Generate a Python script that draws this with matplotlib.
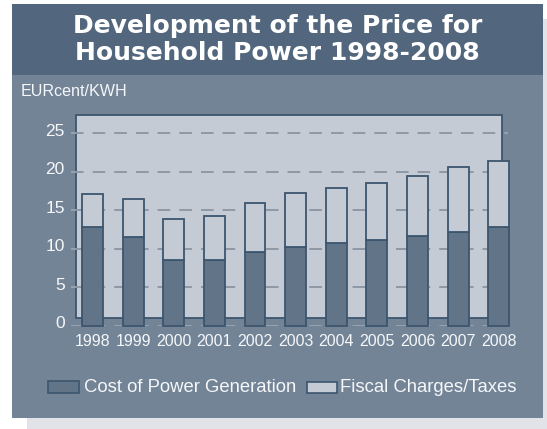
import matplotlib
matplotlib.use("Agg")
import matplotlib.pyplot as plt
from matplotlib.patches import Rectangle
import matplotlib.transforms as mtransforms

years = ["1998", "1999", "2000", "2001", "2002", "2003", "2004", "2005", "2006", "2007", "2008"]
generation = [12.9, 11.6, 8.6, 8.6, 9.6, 10.2, 10.8, 11.2, 11.7, 12.2, 12.9]
taxes = [4.2, 4.9, 5.3, 5.7, 6.4, 7.0, 7.1, 7.4, 7.7, 8.4, 8.5]
yticks = [0, 5, 10, 15, 20, 25]
title_lines = ["Development of the Price for", "Household Power 1998-2008"]
unit_label = "EURcent/KWH"
legend_labels = ["Cost of Power Generation", "Fiscal Charges/Taxes"]

W, H = 547, 429
FONT = "Liberation Sans"
C_BAND = "#52677d"
C_BODY = "#738497"
C_PANEL = "#c5cbd5"
C_DARK = "#627488"
C_EDGE = "#3c566e"
C_SHADOW = "#e2e3e9"
C_GRID_OUT = "#9fa9b6"
C_GRID_IN = "#8c96a3"
C_TEXT = "#f5f7f9"

fig = plt.figure(figsize=(W / 100, H / 100), dpi=100)
fig.patch.set_facecolor("white")


def prect(x0, y0, x1, y1, **kw):
    """Rectangle in pixel coords (top-left origin)."""
    r = Rectangle((x0 / W, 1 - y1 / H), (x1 - x0) / W, (y1 - y0) / H,
                  transform=fig.transFigure, **kw)
    fig.patches.append(r)
    return r


def ptext(x, y, s, family=FONT, **kw):
    return fig.text(x / W, 1 - y / H, s, family=family, **kw)


# shadow, card, title band
prect(27, 19, 560, 440, facecolor=C_SHADOW, edgecolor="none")
prect(12, 4, 543, 418, facecolor=C_BODY, edgecolor="none")
prect(12, 4, 543, 75, facecolor=C_BAND, edgecolor="none")
# back wall panel
panel = prect(76, 115, 501.7, 317.7, facecolor=C_PANEL, edgecolor=C_EDGE, linewidth=1.3)

ptext(277.5, 25.5, title_lines[0], family="DejaVu Sans", color="white", fontsize=18,
      fontweight="bold", ha="center", va="center")
ptext(277.5, 53.5, title_lines[1], family="DejaVu Sans", color="white", fontsize=18,
      fontweight="bold", ha="center", va="center")
ptext(21, 91.5, unit_label, color=C_TEXT, fontsize=11.6, ha="left", va="center")

# axes in bar coordinate system
ax_l, ax_r, ax_t, ax_b = 71, 508, 115, 326
ax = fig.add_axes([ax_l / W, 1 - ax_b / H, (ax_r - ax_l) / W, (ax_b - ax_t) / H])
ax.set_zorder(5)
ax.patch.set_alpha(0)
px_per_unit = (326 - 133.3) / 25
ax.set_ylim(0, (ax_b - ax_t) / px_per_unit)
ax.set_xlim(-0.529, 10.229)
for s in ax.spines.values():
    s.set_visible(False)

ax.set_yticks(yticks)
ax.set_yticklabels([str(v) for v in yticks], family=FONT, fontsize=12.5, color=C_TEXT)
ax.tick_params(axis="y", length=0, pad=4.5)
offset = mtransforms.ScaledTranslation(0, 3.5 / 100, fig.dpi_scale_trans)
for lab in ax.get_yticklabels():
    lab.set_transform(lab.get_transform() + offset)

x = list(range(len(years)))
ax.set_xticks(x)
ax.set_xticklabels(years, family=FONT, fontsize=11.5, color=C_TEXT)
ax.tick_params(axis="x", length=0, pad=6)

dash = (0, (7.5, 5.5))
ax.yaxis.grid(True, color=C_GRID_OUT, linewidth=1.2, linestyle=dash)
ax.xaxis.grid(False)
ax.set_axisbelow(True)
# darker portion of the gridlines over the back wall
inner = ax.hlines(yticks, 0, 1, transform=ax.get_yaxis_transform(), colors=C_GRID_IN,
                  linewidth=1.2, linestyles=[dash], zorder=1)
inner.set_clip_path(panel)

bw = 0.515
ax.bar(x, generation, width=bw, color=C_DARK, edgecolor=C_EDGE, linewidth=1.3,
       zorder=3, clip_on=False)
ax.bar(x, taxes, bottom=generation, width=bw, color=C_PANEL, edgecolor=C_EDGE,
       linewidth=1.3, zorder=3, clip_on=False)

# legend
prect(48, 381, 79, 393, facecolor=C_DARK, edgecolor=C_EDGE, linewidth=1.2)
ptext(84, 388, legend_labels[0], color=C_TEXT, fontsize=13.3, ha="left", va="center")
prect(307, 382, 337, 393, facecolor=C_PANEL, edgecolor=C_EDGE, linewidth=1.2)
ptext(340, 388, legend_labels[1], color=C_TEXT, fontsize=13.3, ha="left", va="center")

fig.savefig("out.png", dpi=100, facecolor=fig.get_facecolor())
